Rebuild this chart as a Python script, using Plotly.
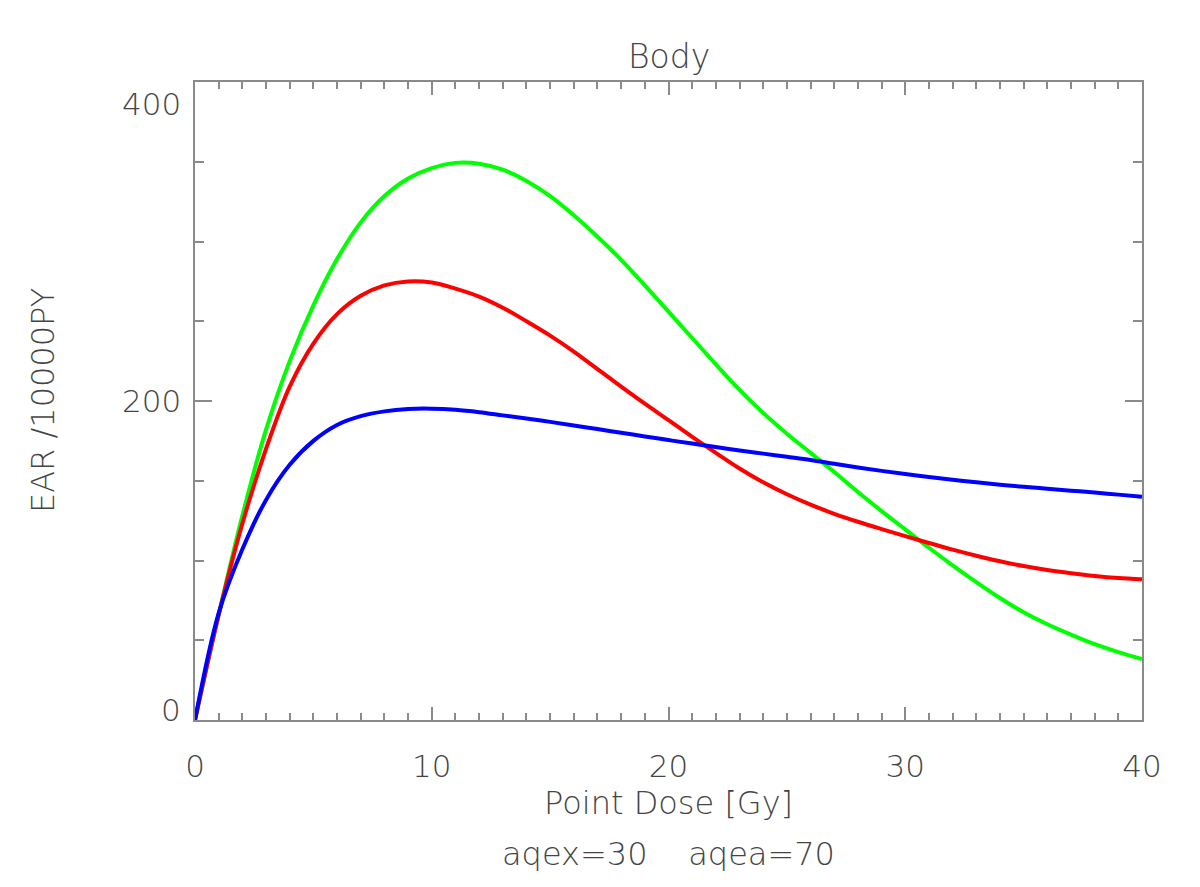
import plotly.graph_objects as go

# point dose [Gy]
dose = list(range(0, 41))

# EAR per 10000 PY
ear_green = [0, 66, 128, 182, 225, 260, 289, 312, 328.5, 339.5,
             346, 349.3, 348.8, 345, 338, 328.5, 316.5, 303, 288.5, 272.5,
             256, 239.5, 223, 207, 192.5, 179.5, 167.5, 155.5, 143, 131,
             119.5, 108, 97, 86.5, 76.5, 67.5, 60, 53.5, 47.5, 42.5, 38.2]
ear_red = [0, 66, 123, 170, 209, 236, 254.5, 266, 272.5, 275,
           274.3, 270.5, 265.5, 258.5, 250, 241, 231, 220, 209, 198.3,
           188, 177.5, 167.5, 157.7, 149, 141.5, 135, 129.3, 124.3, 119.7,
           115.3, 111, 106.8, 103, 99.5, 96.5, 94, 92, 90.3, 89, 88.2]
ear_blue = [0, 67, 107, 138, 160, 175, 185, 190.5, 193.5, 195,
            195.2, 194.5, 193, 191, 189, 186.9, 184.7, 182.4, 180.1, 177.8,
            175.5, 173.3, 171.1, 169, 167, 165, 163, 160.6, 158.3, 156.2,
            154.2, 152.3, 150.6, 149, 147.5, 146.2, 145, 143.8, 142.6, 141.3, 140]

x_ticks = [0, 10, 20, 30, 40]
y_labels = [0, 200, 400]
y_label_shift = [10, 0, -22]

FONT = "DejaVu Sans ExtraLight, DejaVu Sans, sans-serif"
W = 200
TXT = "#444444"
AX = "#8a8a8a"

fig = go.Figure()
for ys, col in [(ear_green, "#00ff00"), (ear_red, "#ff0000"), (ear_blue, "#0000ff")]:
    fig.add_trace(go.Scatter(x=dose, y=ys, mode="lines",
                             line=dict(color=col, width=4, shape="spline", smoothing=1.0),
                             showlegend=False))

# y tick labels (IDL style offsets)
for v, s in zip(y_labels, y_label_shift):
    fig.add_annotation(x=0, xref="paper", y=v, yref="y", text=str(v), showarrow=False,
                       xanchor="right", xshift=-12, yshift=s,
                       font=dict(family=FONT, size=31, color=TXT, weight=W))

fig.add_annotation(x=0.5, xref="paper", y=1, yref="paper", yanchor="bottom", yshift=4,
                   text="Body", showarrow=False,
                   font=dict(family=FONT, size=33, color=TXT, weight=W))
fig.add_annotation(x=0.5, xref="paper", y=0, yref="paper", yanchor="top", yshift=-62,
                   text="Point Dose [Gy]", showarrow=False,
                   font=dict(family=FONT, size=32, color=TXT, weight=W))
fig.add_annotation(x=0.5, xref="paper", y=0, yref="paper", yanchor="top", yshift=-113,
                   text="aqex=30&nbsp;&nbsp;&nbsp;&nbsp;aqea=70", showarrow=False,
                   font=dict(family=FONT, size=32, color=TXT, weight=W))
fig.add_annotation(x=0, xref="paper", y=0.5, yref="paper", xanchor="right", xshift=-131,
                   text="EAR /10000PY", textangle=-90, showarrow=False,
                   font=dict(family=FONT, size=32, color=TXT, weight=W))

fig.update_xaxes(range=[0, 40], tickvals=x_ticks, ticks="inside", ticklen=13, tickwidth=2,
                 tickcolor=AX, showline=True, linecolor=AX, linewidth=2, mirror="ticks",
                 showgrid=False, zeroline=False, ticklabelstandoff=18,
                 tickfont=dict(family=FONT, size=31, color=TXT, weight=W),
                 minor=dict(dtick=1, ticks="inside", ticklen=7, tickwidth=2, tickcolor=AX,
                            showgrid=False))
fig.update_yaxes(range=[0, 400], tickvals=y_labels, ticks="inside", ticklen=17, tickwidth=2,
                 tickcolor=AX, showline=True, linecolor=AX, linewidth=2, mirror="ticks",
                 showgrid=False, zeroline=False, showticklabels=False,
                 minor=dict(dtick=50, ticks="inside", ticklen=9, tickwidth=2, tickcolor=AX,
                            showgrid=False))

# the page body adds an 8px offset, so margins are trimmed to match
fig.update_layout(width=1200, height=887, margin=dict(l=187, r=66, t=74, b=175),
                  paper_bgcolor="white", plot_bgcolor="white")

fig.write_html("out.html")
